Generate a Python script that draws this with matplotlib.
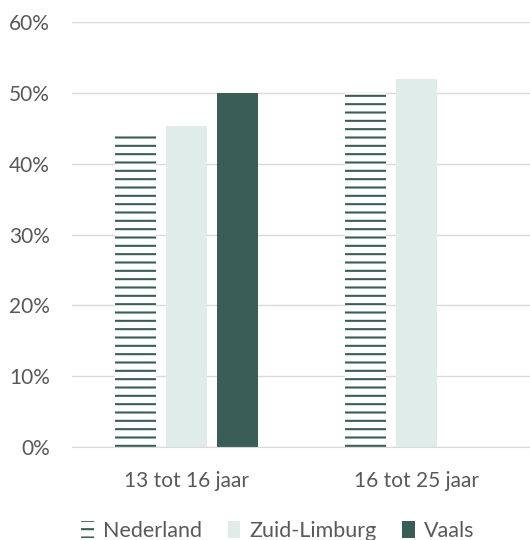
import numpy as np
import matplotlib.pyplot as plt

# Data
categories = ['13 tot 16 jaar', '16 tot 25 jaar']
series = ['Nederland', 'Zuid-Limburg', 'Vaals']
nederland = [44.5, 50.0]
zuid_limburg = [45.4, 52.0]
vaals = [50.0, np.nan]

dark = '#3A5E56'
light = '#E0ECE9'
grey = '#595959'

plt.rcParams['font.family'] = ['Lato', 'DejaVu Sans']
plt.rcParams['hatch.linewidth'] = 1.5
plt.rcParams['hatch.color'] = dark

fig = plt.figure(figsize=(5.3, 5.4), dpi=100)
ax = fig.add_axes([0.136, 0.172, 0.866, 0.787])

x = np.arange(len(categories))
w = 0.178
step = 0.222

ax.bar(x - step, nederland, w, color='white', edgecolor=dark, linewidth=0, hatch='--', label=series[0])
ax.bar(x, zuid_limburg, w, color=light, linewidth=0, label=series[1])
ax.bar(x + step, vaals, w, color=dark, linewidth=0, label=series[2])

ax.set_xlim(-0.5, 1.5)
ax.set_ylim(0, 60)
ax.set_yticks(range(0, 61, 10))
ax.set_yticklabels([f'{v}%' for v in range(0, 61, 10)])
ax.set_xticks(x)
ax.set_xticklabels(categories)

ax.yaxis.grid(True, color='#D9D9D9', linewidth=1)
ax.set_axisbelow(True)
for s in ['top', 'right', 'left']:
    ax.spines[s].set_visible(False)
ax.spines['bottom'].set_color('#D9D9D9')
ax.tick_params(axis='both', length=0, colors=grey, labelsize=15)
ax.tick_params(axis='x', pad=17)
ax.tick_params(axis='y', pad=16)

leg = fig.legend(loc='lower center', bbox_to_anchor=(0.524, -0.038), ncol=3, frameon=False,
                 fontsize=15.5, handlelength=0.6, handleheight=0.85, handletextpad=0.4, columnspacing=1.2)
for t in leg.get_texts():
    t.set_color(grey)

fig.savefig('out.png', dpi=100)
